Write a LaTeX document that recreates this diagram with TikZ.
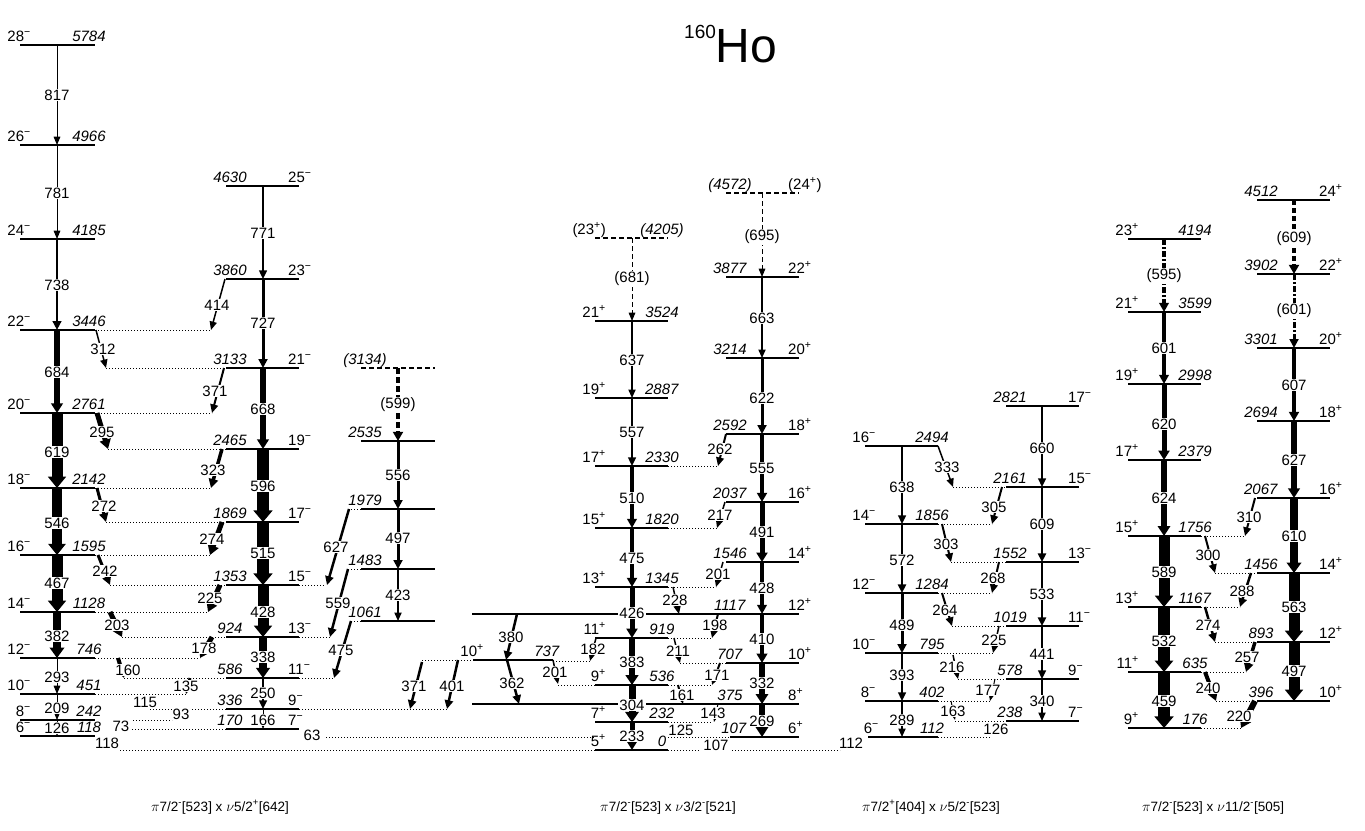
\documentclass[tikz,border=0pt]{standalone}
\usepackage{fontspec}
\setmainfont{Liberation Sans}
\usetikzlibrary{arrows.meta}
\pgfdeclarelayer{fg}
\pgfsetlayers{main,fg}

\newcommand\spinm[1]{#1\textsuperscript{−}}
\newcommand\spinp[1]{#1\textsuperscript{+}}
\newcommand\en[1]{\textit{#1}}
\newcounter{labno}

% level: spin on the left, energy on the right
\newcommand\lvlA[6][]{%
  \stepcounter{labno}%
  \draw[level,#1] (#2,#4) -- (#3,#4);
  \node[txt,anchor=base east] (s\thelabno) at ({#2+11},{#4-4}) {#5};
  \node[txt,anchor=base] (e\thelabno) at ({#3-6},{#4-4}) {#6};}
% level: energy on the left, spin on the right
\newcommand\lvlB[6][]{%
  \stepcounter{labno}%
  \draw[level,#1] (#2,#4) -- (#3,#4);
  \node[txt,anchor=base] (e\thelabno) at ({#2+4},{#4-4}) {#5};
  \node[txt,anchor=base west] (s\thelabno) at ({#3-11},{#4-4}) {#6};}
\newcommand\glab[3]{%
  \stepcounter{labno}%
  \begin{pgfonlayer}{fg}\node[glab] (g\thelabno) at (#1,#2) {#3};\end{pgfonlayer}}
% in-band transition
\newcommand\gam[7][]{%
  \draw[gline=#5,#1] (#2,#3) -- (#2,#4);
  \glab{#2}{#6}{#7}}
% linking transition
\newcommand\xg[9][]{%
  \draw[gline=#6,#1] (#2,#3) -- (#4,#5);
  \glab{#7}{#8}{#9}}
\newcommand\lnk[3]{\draw[link] (#1,#3) -- (#2,#3);}

\begin{document}
\begin{tikzpicture}[x=1pt,y=-1pt,
    txt/.style={font=\fontsize{15}{17}\selectfont,inner sep=0pt},
    glab/.style={txt,fill=white,inner sep=1pt},
    blab/.style={font=\fontsize{13.5}{15}\selectfont,inner sep=0pt,anchor=base},
    level/.style={line width=1.2pt},
    link/.style={line width=1pt,dash pattern=on 1pt off 2pt},
    gline/.style={line width=#1pt,-{Triangle[length=8pt 0.3,width=5.5pt 1.1]}},
    dsh/.style={dash pattern=on 5pt off 3pt},
    dshdot/.style={dash pattern=on 6pt off 2pt on 2pt off 2pt}
  ]
  \useasboundingbox (0,0) rectangle (1365,830);

  \node[anchor=base west,inner sep=0pt] (title) at (684,62)
    {\raisebox{24pt}{\fontsize{19}{19}\selectfont 160}\fontsize{48}{48}\selectfont Ho};

  \lnk{95}{211}{330}
  \lnk{106}{226}{368}
  \lnk{95}{212}{413}
  \lnk{108}{226}{449}
  \lnk{95}{211}{488}
  \lnk{106}{226}{522}
  \lnk{95}{210}{555}
  \lnk{110}{226}{585}
  \lnk{95}{208}{612}
  \lnk{122}{226}{637}
  \lnk{95}{200}{658}
  \lnk{124}{226}{678}
  \lnk{95}{186}{694}
  \lnk{150}{226}{709}
  \lnk{133}{172}{720}
  \lnk{132}{226}{729}
  \lnk{299}{326}{585}
  \lnk{299}{330}{637}
  \lnk{299}{334}{678}
  \lnk{299}{447}{709}
  \lnk{348}{361}{509}
  \lnk{348}{361}{569}
  \lnk{351}{361}{621}
  \lnk{326}{595}{737}
  \lnk{120}{595}{750}
  \lnk{422}{473}{660}
  \lnk{553}{590}{661}
  \lnk{558}{595}{685}
  \lnk{668}{718}{466}
  \lnk{668}{717}{528}
  \lnk{668}{716}{587}
  \lnk{668}{712}{638}
  \lnk{680}{726}{663}
  \lnk{668}{712}{685}
  \lnk{668}{712}{722}
  \lnk{668}{730}{737}
  \lnk{668}{700}{750}
  \lnk{732}{840}{750}
  \lnk{953}{1006}{487}
  \lnk{938}{992}{524}
  \lnk{951}{1006}{562}
  \lnk{938}{992}{593}
  \lnk{952}{1006}{626}
  \lnk{938}{993}{653}
  \lnk{958}{1006}{679}
  \lnk{938}{990}{701}
  \lnk{955}{1006}{721}
  \lnk{938}{990}{737}
  \lnk{1201}{1245}{536}
  \lnk{1215}{1257}{573}
  \lnk{1201}{1240}{607}
  \lnk{1215}{1257}{642}
  \lnk{1201}{1246}{672}
  \lnk{1216}{1257}{701}
  \lnk{1201}{1241}{728}

  \lvlA{20}{95}{45}{\spinm{28}}{\en{5784}}
  \lvlA{20}{95}{145}{\spinm{26}}{\en{4966}}
  \lvlA{20}{95}{239}{\spinm{24}}{\en{4185}}
  \lvlA{20}{95}{330}{\spinm{22}}{\en{3446}}
  \lvlA{20}{95}{413}{\spinm{20}}{\en{2761}}
  \lvlA{20}{95}{488}{\spinm{18}}{\en{2142}}
  \lvlA{20}{95}{555}{\spinm{16}}{\en{1595}}
  \lvlA{20}{95}{612}{\spinm{14}}{\en{1128}}
  \lvlA{20}{95}{658}{\spinm{12}}{\en{746}}
  \lvlA{20}{95}{694}{\spinm{10}}{\en{451}}
  \lvlA{20}{95}{720}{\spinm{8}}{\en{242}}
  \lvlA{20}{95}{736}{\spinm{6}}{\en{118}}

  \lvlB{226}{299}{186}{\en{4630}}{\spinm{25}}
  \lvlB{226}{299}{279}{\en{3860}}{\spinm{23}}
  \lvlB{226}{299}{368}{\en{3133}}{\spinm{21}}
  \lvlB{226}{299}{449}{\en{2465}}{\spinm{19}}
  \lvlB{226}{299}{522}{\en{1869}}{\spinm{17}}
  \lvlB{226}{299}{585}{\en{1353}}{\spinm{15}}
  \lvlB{226}{299}{637}{\en{924}}{\spinm{13}}
  \lvlB{226}{299}{678}{\en{586}}{\spinm{11}}
  \lvlB{226}{299}{709}{\en{336}}{\spinm{9}}
  \lvlB{226}{299}{729}{\en{170}}{\spinm{7}}

  \lvlB[dsh]{361}{435}{368}{\en{(3134)}}{}
  \lvlB{361}{435}{441}{\en{2535}}{}
  \lvlB{361}{435}{509}{\en{1979}}{}
  \lvlB{361}{435}{569}{\en{1483}}{}
  \lvlB{361}{435}{621}{\en{1061}}{}

  \lvlA{473}{553}{660}{\spinp{10}}{\en{737}}
  \draw[level] (472,614) -- (726,614);
  \draw[level] (472,704) -- (726,704);

  \lvlA[dsh]{595}{668}{238}{(\spinp{23})}{\en{(4205)}}
  \lvlA{595}{668}{321}{\spinp{21}}{\en{3524}}
  \lvlA{595}{668}{398}{\spinp{19}}{\en{2887}}
  \lvlA{595}{668}{466}{\spinp{17}}{\en{2330}}
  \lvlA{595}{668}{528}{\spinp{15}}{\en{1820}}
  \lvlA{595}{668}{587}{\spinp{13}}{\en{1345}}
  \lvlA{595}{668}{638}{\spinp{11}}{\en{919}}
  \lvlA{595}{668}{685}{\spinp{9}}{\en{536}}
  \lvlA{595}{668}{722}{\spinp{7}}{\en{232}}
  \lvlA{595}{668}{750}{\spinp{5}}{\en{0}}

  \lvlB[dsh]{726}{799}{193}{\en{(4572)}}{(\spinp{24})}
  \lvlB{726}{799}{277}{\en{3877}}{\spinp{22}}
  \lvlB{726}{799}{358}{\en{3214}}{\spinp{20}}
  \lvlB{726}{799}{434}{\en{2592}}{\spinp{18}}
  \lvlB{726}{799}{502}{\en{2037}}{\spinp{16}}
  \lvlB{726}{799}{562}{\en{1546}}{\spinp{14}}
  \lvlB{726}{799}{614}{\en{1117}}{\spinp{12}}
  \lvlB{726}{799}{663}{\en{707}}{\spinp{10}}
  \lvlB{726}{799}{704}{\en{375}}{\spinp{8}}
  \lvlB{730}{799}{737}{\en{107}}{\spinp{6}}

  \lvlA{865}{938}{446}{\spinm{16}}{\en{2494}}
  \lvlA{865}{938}{524}{\spinm{14}}{\en{1856}}
  \lvlA{865}{938}{593}{\spinm{12}}{\en{1284}}
  \lvlA{865}{938}{653}{\spinm{10}}{\en{795}}
  \lvlA{865}{938}{701}{\spinm{8}}{\en{402}}
  \lvlA{868}{938}{737}{\spinm{6}}{\en{112}}

  \lvlB{1006}{1079}{406}{\en{2821}}{\spinm{17}}
  \lvlB{1006}{1079}{487}{\en{2161}}{\spinm{15}}
  \lvlB{1006}{1079}{562}{\en{1552}}{\spinm{13}}
  \lvlB{1006}{1079}{626}{\en{1019}}{\spinm{11}}
  \lvlB{1006}{1079}{679}{\en{578}}{\spinm{9}}
  \lvlB{1006}{1079}{721}{\en{238}}{\spinm{7}}

  \lvlA{1128}{1201}{239}{\spinp{23}}{\en{4194}}
  \lvlA{1128}{1201}{312}{\spinp{21}}{\en{3599}}
  \lvlA{1128}{1201}{384}{\spinp{19}}{\en{2998}}
  \lvlA{1128}{1201}{460}{\spinp{17}}{\en{2379}}
  \lvlA{1128}{1201}{536}{\spinp{15}}{\en{1756}}
  \lvlA{1128}{1201}{607}{\spinp{13}}{\en{1167}}
  \lvlA{1128}{1201}{672}{\spinp{11}}{\en{635}}
  \lvlA{1128}{1201}{728}{\spinp{9}}{\en{176}}

  \lvlB{1257}{1330}{200}{\en{4512}}{\spinp{24}}
  \lvlB{1257}{1330}{274}{\en{3902}}{\spinp{22}}
  \lvlB{1257}{1330}{348}{\en{3301}}{\spinp{20}}
  \lvlB{1257}{1330}{421}{\en{2694}}{\spinp{18}}
  \lvlB{1257}{1330}{498}{\en{2067}}{\spinp{16}}
  \lvlB{1257}{1330}{573}{\en{1456}}{\spinp{14}}
  \lvlB{1257}{1330}{642}{\en{893}}{\spinp{12}}
  \lvlB{1257}{1330}{701}{\en{396}}{\spinp{10}}

  \gam{57}{45}{145}{1}{95}{817}
  \gam{57}{145}{239}{1}{193}{781}
  \gam{57}{239}{330}{2.7}{285}{738}
  \gam{57}{330}{413}{5.5}{372}{684}
  \gam{57}{413}{488}{11}{452}{619}
  \gam{57}{488}{555}{10.5}{523}{546}
  \gam{57}{555}{612}{11}{583}{467}
  \gam{57}{612}{658}{8}{636}{382}
  \gam{57}{658}{694}{1}{677}{293}
  \gam{57}{694}{720}{1}{708}{209}
  \gam{57}{720}{736}{1}{728}{126}

  \gam{263}{186}{279}{2}{233}{771}
  \gam{263}{279}{368}{3}{323}{727}
  \gam{263}{368}{449}{5.5}{409}{668}
  \gam{263}{449}{522}{12}{486}{596}
  \gam{263}{522}{585}{12}{553}{515}
  \gam{263}{585}{637}{11}{612}{428}
  \gam{263}{637}{678}{7.5}{657}{338}
  \gam{263}{678}{709}{2}{693}{250}
  \gam{263}{709}{729}{1}{720}{166}

  \gam[dash pattern=on 6pt off 3pt]{398}{368}{441}{4}{405}{(599)}
  \gam{398}{441}{509}{3}{475}{556}
  \gam{398}{509}{569}{3}{538}{497}
  \gam{398}{569}{621}{1.5}{595}{423}

  \gam[dsh]{632}{238}{321}{1}{279}{(681)}
  \gam{632}{321}{398}{1.5}{360}{637}
  \gam{632}{398}{466}{2}{432}{557}
  \gam{632}{466}{528}{3.5}{498}{510}
  \gam{632}{528}{587}{4}{558}{475}
  \gam{632}{587}{638}{5}{613}{426}
  \gam{632}{638}{685}{6.5}{662}{383}
  \gam{632}{685}{722}{7}{705}{304}
  \gam{632}{722}{750}{5}{736}{233}

  \gam[dsh]{762}{193}{277}{1}{237}{(695)}
  \gam{762}{277}{358}{1.5}{318}{663}
  \gam{762}{358}{434}{3}{398}{622}
  \gam{762}{434}{502}{4}{468}{555}
  \gam{762}{502}{562}{5}{532}{491}
  \gam{762}{562}{614}{3.5}{588}{428}
  \gam{762}{614}{663}{4.5}{639}{410}
  \gam{762}{663}{704}{6}{683}{332}
  \gam{762}{704}{737}{6}{721}{269}

  \gam{902}{446}{524}{2}{487}{638}
  \gam{902}{524}{593}{2.5}{560}{572}
  \gam{902}{593}{653}{3}{625}{489}
  \gam{902}{653}{701}{2}{675}{393}
  \gam{902}{701}{737}{1.5}{720}{289}

  \gam{1042}{406}{487}{2}{448}{660}
  \gam{1042}{487}{562}{2.5}{524}{609}
  \gam{1042}{562}{626}{2.5}{594}{533}
  \gam{1042}{626}{679}{2}{654}{441}
  \gam{1042}{679}{721}{1.5}{701}{340}

  \gam[dshdot]{1164}{239}{312}{3.5}{276}{(595)}
  \gam{1164}{312}{384}{3.5}{348}{601}
  \gam{1164}{384}{460}{5}{424}{620}
  \gam{1164}{460}{536}{6}{498}{624}
  \gam{1164}{536}{607}{11}{572}{589}
  \gam{1164}{607}{672}{11.5}{641}{532}
  \gam{1164}{672}{728}{12}{701}{459}

  \gam[dsh]{1294}{200}{274}{4}{239}{(609)}
  \gam[dshdot]{1294}{274}{348}{3}{311}{(601)}
  \gam{1294}{348}{421}{4}{385}{607}
  \gam{1294}{421}{498}{5.5}{460}{627}
  \gam{1294}{498}{573}{8}{536}{610}
  \gam{1294}{573}{642}{11}{607}{563}
  \gam{1294}{642}{701}{11}{671}{497}

  \xg{225}{279}{211}{330}{1.5}{217}{305}{414}
  \xg{96}{330}{106}{368}{1.5}{103}{349}{312}
  \xg{224}{368}{212}{413}{2}{215}{391}{371}
  \xg{97}{413}{108}{449}{5}{102}{432}{295}
  \xg{222}{449}{211}{488}{3.5}{213}{470}{323}
  \xg{97}{488}{106}{522}{3}{104}{506}{272}
  \xg{222}{522}{210}{555}{5}{212}{539}{274}
  \xg{98}{555}{110}{585}{3}{105}{571}{242}
  \xg{220}{585}{208}{612}{5}{210}{598}{225}
  \xg{110}{612}{122}{637}{5}{117}{625}{203}
  \xg{212}{637}{200}{658}{5}{204}{648}{178}
  \xg{118}{658}{124}{678}{4}{128}{670}{160}
  \xg{190}{678}{186}{694}{3}{186}{686}{135}
  \glab{145}{702}{115}
  \glab{181}{714}{93}
  \glab{121}{726}{73}
  \glab{107}{743}{118}
  \glab{312}{735}{63}

  \xg{349}{509}{327}{585}{2.5}{336}{547}{627}
  \xg{348}{569}{330}{637}{2.5}{338}{603}{559}
  \xg{351}{621}{334}{678}{2.5}{341}{650}{475}

  \xg{517}{614}{506}{660}{2.5}{511}{637}{380}
  \xg{507}{660}{519}{704}{2.5}{512}{683}{362}
  \xg{422}{662}{410}{709}{2.5}{414}{686}{371}
  \xg{458}{660}{447}{709}{2.5}{452}{686}{401}
  \xg{553}{660}{558}{684}{1.5}{555}{672}{201}

  \xg{726}{434}{718}{466}{2}{720}{449}{262}
  \xg{725}{502}{717}{528}{1.5}{720}{515}{217}
  \xg{723}{562}{716}{587}{1.5}{718}{574}{201}
  \xg{673}{587}{679}{614}{1.5}{675}{600}{228}
  \xg{718}{614}{712}{638}{2}{715}{625}{198}
  \xg{674}{638}{680}{663}{1.5}{678}{651}{211}
  \xg{596}{638}{590}{661}{1.5}{593}{649}{182}
  \xg{720}{663}{712}{685}{2}{717}{675}{171}
  \xg{678}{685}{683}{704}{2}{682}{695}{161}
  \xg{718}{704}{714}{722}{1}{713}{713}{143}
  \glab{681}{730}{125}
  \glab{716}{745}{107}
  \glab{851}{743}{112}

  \xg{938}{446}{953}{487}{1.5}{947}{467}{333}
  \xg{1002}{487}{992}{524}{2}{994}{507}{305}
  \xg{942}{524}{951}{562}{2}{946}{544}{303}
  \xg{999}{562}{992}{593}{2}{993}{578}{268}
  \xg{942}{593}{952}{626}{2}{945}{610}{264}
  \xg{999}{626}{993}{653}{1.5}{994}{640}{225}
  \xg{953}{655}{958}{679}{1.5}{952}{667}{216}
  \xg{995}{679}{990}{701}{1}{988}{690}{177}
  \xg{951}{701}{955}{720}{1}{953}{711}{163}
  \glab{996}{729}{126}

  \xg{1255}{498}{1245}{536}{2}{1249}{517}{310}
  \xg{1205}{536}{1215}{573}{2}{1208}{555}{300}
  \xg{1251}{573}{1240}{607}{2.5}{1242}{591}{288}
  \xg{1205}{607}{1215}{642}{2.5}{1208}{625}{274}
  \xg{1255}{642}{1246}{672}{3.5}{1247}{657}{257}
  \xg{1205}{672}{1216}{701}{4}{1208}{688}{240}
  \xg{1255}{701}{1241}{728}{6}{1239}{716}{220}

  \node[blab] (bd1) at (220,811) {$\pi$7/2\textsuperscript{-}[523] x $\nu$5/2\textsuperscript{+}[642]};
  \node[blab] (bd2) at (668,811) {$\pi$7/2\textsuperscript{-}[523] x $\nu$3/2\textsuperscript{-}[521]};
  \node[blab] (bd3) at (931,811) {$\pi$7/2\textsuperscript{+}[404] x $\nu$5/2\textsuperscript{-}[523]};
  \node[blab] (bd4) at (1213,811) {$\pi$7/2\textsuperscript{-}[523] x $\nu$11/2\textsuperscript{-}[505]};
\end{tikzpicture}
\end{document}
